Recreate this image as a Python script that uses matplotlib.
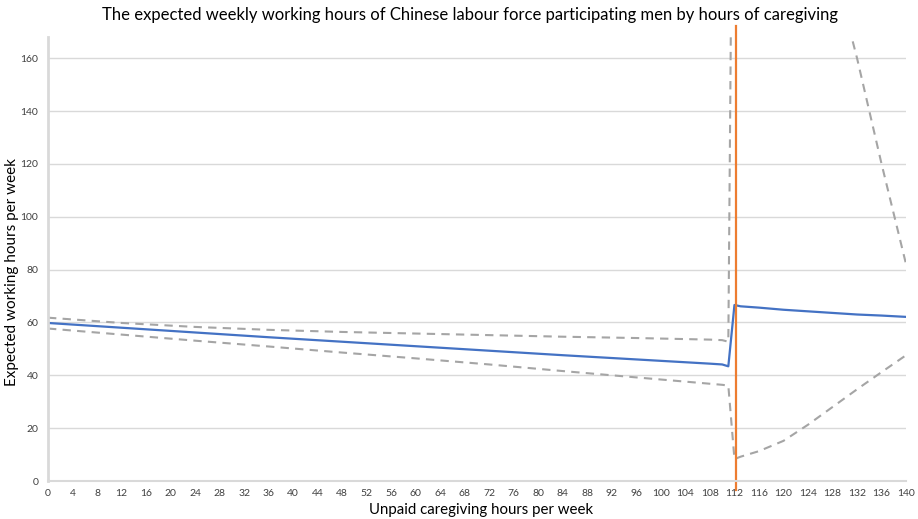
import matplotlib
matplotlib.use('Agg')
import matplotlib.pyplot as plt

plt.rcParams['font.family'] = ['Lato', 'DejaVu Sans']

# caregiving hours per week and the fitted working hours with its confidence band
hours = [0, 12, 24, 36, 48, 60, 72, 84, 96, 108, 110, 111, 112, 113, 116, 120, 124, 128, 132, 136, 140]
expected = [59.8, 58.0, 56.2, 54.4, 52.7, 51.0, 49.3, 47.6, 46.0, 44.4, 44.1, 43.4,
            66.6, 66.1, 65.6, 64.8, 64.2, 63.6, 63.0, 62.6, 62.1]
upper = [61.8, 59.8, 58.3, 57.2, 56.4, 55.8, 55.2, 54.6, 54.1, 53.5, 53.3, 52.7,
         340, 330, 300, 262, 228, 196, 160, 120, 82]
lower = [57.7, 55.4, 53.1, 50.9, 48.6, 46.4, 44.1, 41.6, 39.2, 36.8, 36.4, 36.1,
         8.3, 9.2, 11.3, 15.2, 21.3, 28.0, 34.7, 41.2, 47.6]

# vertical marker at the threshold
cutoff_x = [112.2, 112.2]
cutoff_y = [-3.5, 172]

x_ticks = list(range(0, 141, 4))
y_ticks = list(range(0, 161, 20))

fig = plt.figure(figsize=(9.18, 5.19), dpi=100)
ax = fig.add_axes([0.0523, 0.0732, 0.9347, 0.8555])

ax.plot(hours, upper, color='#A5A5A5', lw=1.5, dashes=(4, 3))
ax.plot(hours, lower, color='#A5A5A5', lw=1.5, dashes=(4, 3))
ax.plot(hours, expected, color='#4472C4', lw=1.6)
ax.plot(cutoff_x, cutoff_y, color='#ED7D31', lw=1.6, clip_on=False)

ax.set_xlim(0, 140)
ax.set_ylim(0, 168)
ax.set_xticks(x_ticks)
ax.set_yticks(y_ticks)
ax.tick_params(length=0, labelsize=7.5, colors='#404040')
ax.tick_params(axis='y', pad=7)
ax.tick_params(axis='x', pad=6)
ax.grid(axis='y', color='#D9D9D9', lw=1)
ax.set_axisbelow(True)

for side in ['top', 'right']:
    ax.spines[side].set_visible(False)
ax.spines['left'].set_color('#D9D9D9')
ax.spines['left'].set_linewidth(2)
ax.spines['bottom'].set_color('#D9D9D9')
ax.spines['bottom'].set_linewidth(1.5)

ax.set_xlabel('Unpaid caregiving hours per week', fontsize=10.8, color='#000000')
ax.set_ylabel('Expected working hours per week', fontsize=11, color='#000000')
ax.xaxis.set_label_coords(0.505, -0.05)
ax.yaxis.set_label_coords(-0.034, 0.47)
fig.text(0.512, 0.971, 'The expected weekly working hours of Chinese labour force participating men by hours of caregiving',
         ha='center', va='center', fontsize=12)

fig.savefig('out.png', dpi=100)
